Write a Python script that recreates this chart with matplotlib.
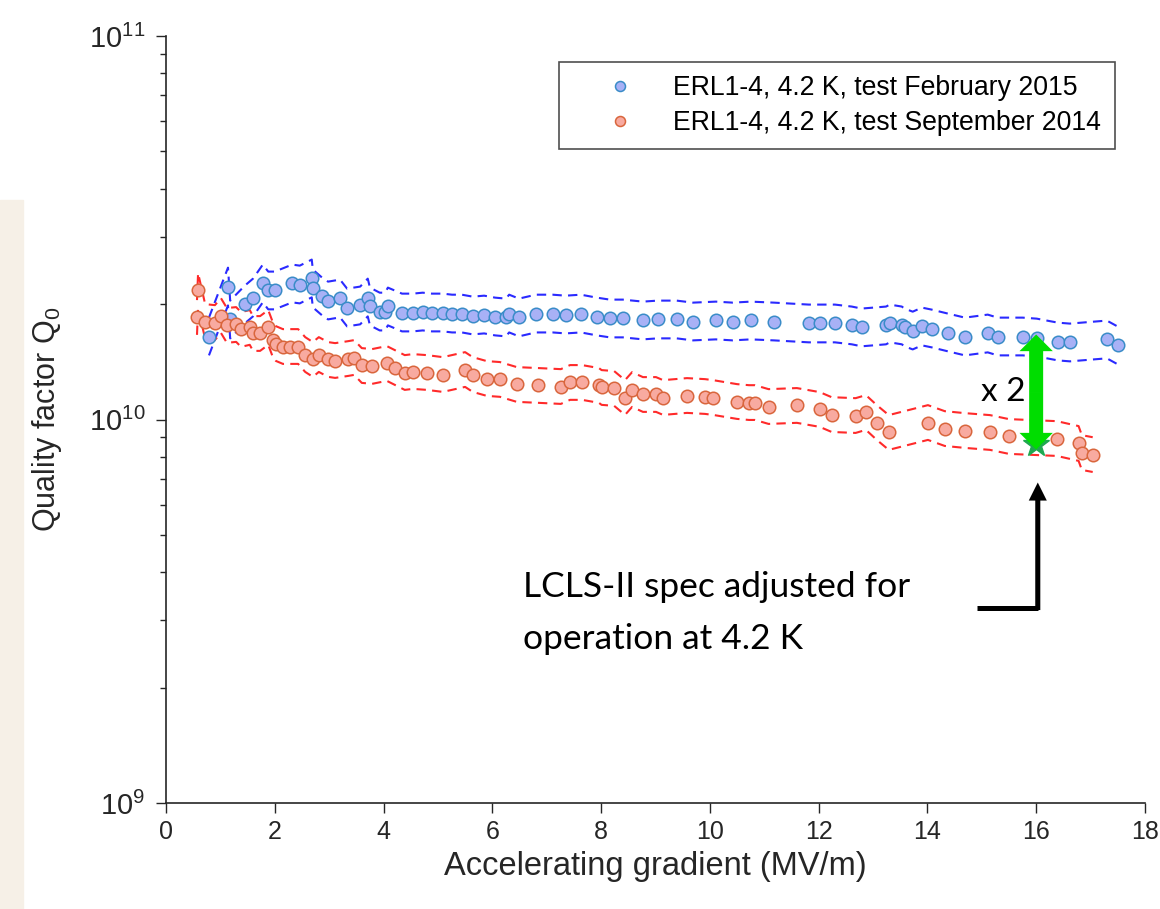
"""
Q0 vs accelerating gradient for ERL1-4 at 4.2 K, two test campaigns.
"""

import numpy as np
import matplotlib.pyplot as plt
from matplotlib.patches import FancyArrowPatch, Rectangle

FIG_PATH = "out.png"

# --- data --------------------------------------------------------------
feb_x = [0.79, 1.14, 1.18, 1.45, 1.60, 1.78, 1.88, 2.00, 2.32, 2.46,
         2.68, 2.70, 2.87, 2.98, 3.20, 3.33, 3.57, 3.71, 3.75, 3.93,
         4.03, 4.08, 4.34, 4.54, 4.72, 4.89, 5.09, 5.26, 5.44, 5.64,
         5.85, 6.05, 6.25, 6.31, 6.49, 6.80, 7.11, 7.35, 7.63, 7.92,
         8.16, 8.40, 8.77, 9.04, 9.39, 9.69, 10.11, 10.42, 10.75, 11.18,
         11.82, 12.02, 12.30, 12.61, 12.79, 13.24, 13.31, 13.53, 13.58, 13.73,
         13.90, 14.08, 14.38, 14.69, 15.11, 15.29, 15.75, 16.01, 16.40, 16.62,
         17.30, 17.50]
feb_q = [1.646, 2.222, 1.823, 1.995, 2.080, 2.263, 2.170, 2.170, 2.263, 2.249,
         2.332, 2.196, 2.093, 2.043, 2.068, 1.959, 1.983, 2.080, 1.971, 1.912,
         1.912, 1.971, 1.901, 1.901, 1.912, 1.901, 1.901, 1.889, 1.889, 1.867,
         1.878, 1.856, 1.845, 1.889, 1.845, 1.889, 1.889, 1.878, 1.889, 1.856,
         1.834, 1.834, 1.812, 1.823, 1.823, 1.801, 1.812, 1.801, 1.812, 1.801,
         1.780, 1.780, 1.780, 1.759, 1.738, 1.759, 1.780, 1.759, 1.738, 1.706,
         1.748, 1.727, 1.686, 1.646, 1.676, 1.646, 1.646, 1.636, 1.597, 1.588,
         1.617, 1.560]

sep_x = [0.57, 0.59, 0.72, 0.90, 1.01, 1.12, 1.29, 1.38, 1.54, 1.60,
         1.73, 1.88, 1.97, 2.02, 2.15, 2.28, 2.43, 2.56, 2.70, 2.81,
         2.98, 3.11, 3.35, 3.46, 3.60, 3.79, 4.06, 4.21, 4.39, 4.54,
         4.80, 5.09, 5.50, 5.64, 5.90, 6.14, 6.45, 6.84, 7.26, 7.43,
         7.65, 7.96, 8.01, 8.24, 8.44, 8.57, 8.77, 9.01, 9.14, 9.58,
         9.91, 10.06, 10.50, 10.72, 10.83, 11.08, 11.60, 12.02, 12.24, 12.68,
         12.87, 13.07, 13.29, 14.01, 14.32, 14.69, 15.15, 15.50, 16.38, 16.78,
         16.84, 17.04]
sep_q = [1.845, 2.170, 1.801, 1.790, 1.867, 1.759, 1.769, 1.717, 1.738, 1.676,
         1.676, 1.738, 1.607, 1.578, 1.550, 1.550, 1.550, 1.477, 1.434, 1.477,
         1.434, 1.425, 1.442, 1.451, 1.383, 1.375, 1.400, 1.366, 1.326, 1.334,
         1.326, 1.310, 1.350, 1.310, 1.279, 1.272, 1.234, 1.227, 1.219, 1.249,
         1.249, 1.227, 1.212, 1.205, 1.141, 1.197, 1.162, 1.162, 1.141, 1.155,
         1.148, 1.141, 1.114, 1.107, 1.107, 1.081, 1.088, 1.062, 1.030, 1.024,
         1.043, 0.982, 0.925, 0.982, 0.947, 0.936, 0.925, 0.903, 0.892, 0.866,
         0.820, 0.810]

# relative measurement uncertainty shown as dashed bands
feb_rel_err = 0.12
sep_rel_err = 0.11

# LCLS-II spec (adjusted for 4.2 K) and the x2 gap
spec_x = 16.0
spec_q = 0.861e10
gap_top_q = 1.666e10
gap_bot_q = 0.835e10

feb_label = "ERL1-4, 4.2 K, test February 2015"
sep_label = "ERL1-4, 4.2 K, test September 2014"


def main() -> None:
    plt.rcParams["font.family"] = ["Liberation Sans", "DejaVu Sans"]
    plt.rcParams["mathtext.fontset"] = "custom"
    plt.rcParams["mathtext.rm"] = "Liberation Sans"
    plt.rcParams["mathtext.it"] = "Liberation Sans:italic"

    fx = np.array(feb_x)
    fq = np.array(feb_q) * 1e10
    sx = np.array(sep_x)
    sq = np.array(sep_q) * 1e10

    fig = plt.figure(figsize=(11.6, 9.09), dpi=100)
    # faint slide background on the left edge
    fig.patches.append(Rectangle((0, 0), 0.02, 0.78, transform=fig.transFigure,
                                 color="#f6f0e7", zorder=-10))
    ax = fig.add_axes([0.1431, 0.1166, 0.8439, 0.8438])

    dash = (0, (4.5, 3))
    ax.plot(fx, fq * (1 + feb_rel_err), color="#2a2aff", lw=1.5, ls=dash, zorder=2)
    ax.plot(fx, fq / (1 + feb_rel_err), color="#2a2aff", lw=1.5, ls=dash, zorder=2)
    ax.plot(sx, sq * (1 + sep_rel_err), color="#ff2a2a", lw=1.5, ls=dash, zorder=2)
    ax.plot(sx, sq / (1 + sep_rel_err), color="#ff2a2a", lw=1.5, ls=dash, zorder=2)

    ax.plot(fx, fq, ls="none", marker="o", ms=9, mfc="#a8b1f6", mec="#3a8cc8",
            mew=1.1, zorder=3, label=feb_label)
    ax.plot(sx, sq, ls="none", marker="o", ms=9, mfc="#f8aaa0", mec="#d9663d",
            mew=1.1, zorder=3, label=sep_label)

    ax.set_yscale("log")
    ax.set_xlim(0, 18)
    ax.set_ylim(1e9, 1e11)
    ax.set_xticks(np.arange(0, 19, 2))
    ax.set_yticks([1e9, 1e10, 1e11])

    for side in ("top", "right"):
        ax.spines[side].set_visible(False)
    for side in ("left", "bottom"):
        ax.spines[side].set_linewidth(1.2)
        ax.spines[side].set_color("#262626")
    ax.tick_params(which="major", direction="out", length=7, width=1.0,
                   colors="#262626", labelsize=18)
    ax.tick_params(which="minor", direction="out", length=4, width=1.0,
                   colors="#262626")
    ax.tick_params(axis="y", which="major", pad=8, labelsize=21)
    ax.tick_params(axis="x", which="major", pad=5)

    ax.set_xlabel("Accelerating gradient (MV/m)", fontsize=23.5, color="#262626",
                  labelpad=5)
    ax.set_ylabel("Quality factor Q$_0$", fontsize=22, color="#262626",
                  labelpad=18)

    leg = ax.legend(loc="upper right", bbox_to_anchor=(0.969, 0.966),
                    borderaxespad=0, fontsize=19.2, markerscale=0.8,
                    frameon=True, fancybox=False, edgecolor="#222222",
                    handlelength=3.6, handletextpad=0.2, borderpad=0.5,
                    labelspacing=0.32)
    leg.get_frame().set_linewidth(1.2)

    # spec star
    ax.plot([spec_x], [spec_q], ls="none", marker="*", ms=20, color="#1fa84f",
            zorder=5)

    # green double arrow showing the factor 2
    mid_q = np.sqrt(gap_top_q * gap_bot_q)
    for end_q in (gap_top_q, gap_bot_q):
        arr = FancyArrowPatch((spec_x, mid_q), (spec_x, end_q),
                              arrowstyle="simple,head_length=0.5,head_width=1.0,tail_width=0.42",
                              mutation_scale=24, color="#00dd00", lw=0,
                              shrinkA=0, shrinkB=0, zorder=6)
        ax.add_patch(arr)
    ax.text(15.39, 1.183e10, "x 2", fontsize=24, family=["Lato", "DejaVu Sans"],
            ha="center", va="center", color="black", zorder=7)

    # black elbow arrow pointing at the spec
    corner_q = 0.3234e10
    ax.plot([14.91, spec_x + 0.03], [corner_q, corner_q], color="black", lw=3.6,
            solid_capstyle="butt", zorder=6)
    up = FancyArrowPatch((spec_x + 0.03, corner_q * 0.985), (spec_x + 0.03, 0.685e10),
                         arrowstyle="simple,head_length=1.0,head_width=1.0,tail_width=0.28",
                         mutation_scale=13, color="black", lw=0,
                         shrinkA=0, shrinkB=0, zorder=6)
    ax.add_patch(up)

    ax.text(6.56, 0.3454e10, "LCLS-II spec adjusted for", fontsize=25.5,
            family=["Lato", "DejaVu Sans"], ha="left", va="baseline", zorder=7)
    ax.text(6.56, 0.2515e10, "operation at 4.2 K", fontsize=25.5,
            family=["Lato", "DejaVu Sans"], ha="left", va="baseline", zorder=7)

    fig.savefig(FIG_PATH, dpi=100)
    plt.close(fig)


if __name__ == "__main__":
    main()
